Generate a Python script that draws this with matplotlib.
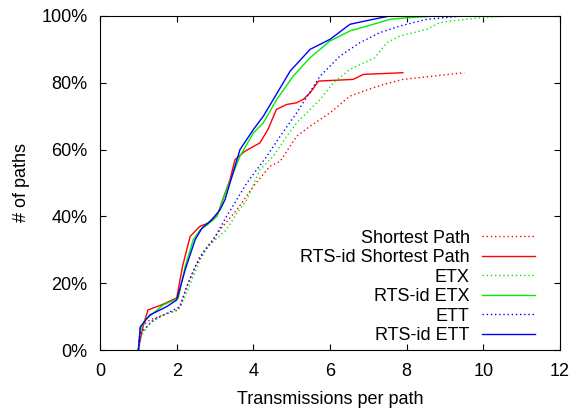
import matplotlib
matplotlib.use("Agg")
import matplotlib.pyplot as plt
from matplotlib.ticker import FuncFormatter

plt.rcParams["font.family"] = ["Liberation Sans", "DejaVu Sans"]

# ── data: (transmissions per path, % of paths) ──────────────────────────────
sp_x = [1.0, 1.05, 1.3, 1.65, 2.04, 2.3, 2.6, 2.87, 3.2, 3.57, 4.0, 4.43, 4.7,
        5.13, 5.48, 6.0, 6.52, 7.0, 7.4, 7.9, 8.7, 9.5]
sp_y = [0, 7, 9, 10.5, 12, 20, 28, 32, 37, 42, 49, 55, 56.5,
        64, 67, 71, 76, 78, 79.5, 81, 82, 83]

rsp_x = [1.0, 1.1, 1.17, 1.25, 1.6, 2.0, 2.15, 2.35, 2.6, 2.82, 3.08, 3.2, 3.39,
         3.52, 3.78, 4.17, 4.38, 4.6, 4.87, 5.13, 5.3, 5.48, 5.7, 6.6, 6.87, 7.9]
rsp_y = [0, 6, 9, 12, 13.5, 15.6, 25, 34, 37, 38, 41, 45, 51,
         57, 59.5, 62, 66, 72, 73.5, 74, 75, 77, 80.5, 81, 82.5, 83]

etx_x = [1.0, 1.05, 1.3, 1.65, 2.04, 2.22, 2.43, 2.61, 2.82, 3.05, 3.3, 3.57, 3.83,
         4.17, 4.52, 4.87, 5.13, 5.74, 6.09, 6.52, 7.17, 7.48, 7.83, 8.53, 8.87,
         9.3, 10.0, 10.7]
etx_y = [0, 4, 8, 10.5, 12, 16, 22, 27, 31, 33.5, 36, 41, 45,
         54, 58, 64, 68, 75, 80, 84, 87.5, 92, 94, 96, 98,
         98.7, 99.5, 100]

retx_x = [1.0, 1.05, 1.17, 1.65, 2.04, 2.22, 2.43, 2.61, 2.8, 3.05, 3.3, 3.65,
          4.0, 4.26, 4.61, 5.04, 5.48, 6.0, 6.52, 7.13, 7.57, 8.2, 8.8]
retx_y = [0, 6, 9, 13.5, 15.5, 25, 33, 36, 37.5, 40, 48, 58,
          65, 68, 75, 82, 87.5, 92.5, 95.5, 97.5, 99, 99.6, 100]

ett_x = [1.0, 1.05, 1.39, 1.74, 2.09, 2.26, 2.48, 2.74, 2.96, 3.3, 3.83, 4.35,
         4.7, 5.13, 5.74, 6.26, 6.78, 7.3, 7.83, 8.53, 9.5]
ett_y = [0, 5, 9, 11, 13, 19, 25, 30, 33, 40, 50, 58,
         64, 71, 82, 88, 92, 95, 97, 99, 100]

rett_x = [1.0, 1.05, 1.3, 1.74, 2.0, 2.22, 2.48, 2.66, 2.92, 3.13, 3.26, 3.65,
          4.0, 4.26, 4.52, 4.96, 5.48, 6.0, 6.52, 7.13, 7.57]
rett_y = [0, 7, 10.5, 13, 15, 24, 33, 36.5, 39, 42, 45, 60,
          66, 70, 75, 83.5, 90, 93, 97.5, 99, 100]

RED, GREEN, BLUE = "#ff0000", "#00ee00", "#0000ff"
DOT = (0, (1, 2))
FS = 13

fig = plt.figure(figsize=(5.75, 4.08), dpi=100)
ax = fig.add_axes([0.174, 0.142, 0.800, 0.819])

ax.plot(sp_x, sp_y, color=RED, lw=1, ls=DOT, label="Shortest Path")
ax.plot(rsp_x, rsp_y, color=RED, lw=1, label="RTS-id Shortest Path")
ax.plot(etx_x, etx_y, color=GREEN, lw=1, ls=DOT, label="ETX")
ax.plot(retx_x, retx_y, color=GREEN, lw=1, label="RTS-id ETX")
ax.plot(ett_x, ett_y, color=BLUE, lw=1, ls=DOT, label="ETT")
ax.plot(rett_x, rett_y, color=BLUE, lw=1, label="RTS-id ETT")

ax.set_xlim(0, 12)
ax.set_ylim(0, 100)
ax.set_xticks(range(0, 13, 2))
ax.set_yticks(range(0, 101, 20))
ax.yaxis.set_major_formatter(FuncFormatter(lambda v, p: f"{int(v)}%"))
ax.tick_params(direction="in", top=True, right=True, labelsize=FS, length=4,
               pad=9)
ax.set_xlabel("Transmissions per path", fontsize=FS, labelpad=8)
ax.set_ylabel("# of paths", fontsize=FS, labelpad=8)

ax.legend(loc="lower right", bbox_to_anchor=(0.976, -0.026), frameon=False,
          markerfirst=False, fontsize=FS, handlelength=2.9, labelspacing=0.14,
          handletextpad=0.7, borderpad=0.3)

fig.savefig("out.png", dpi=100)
